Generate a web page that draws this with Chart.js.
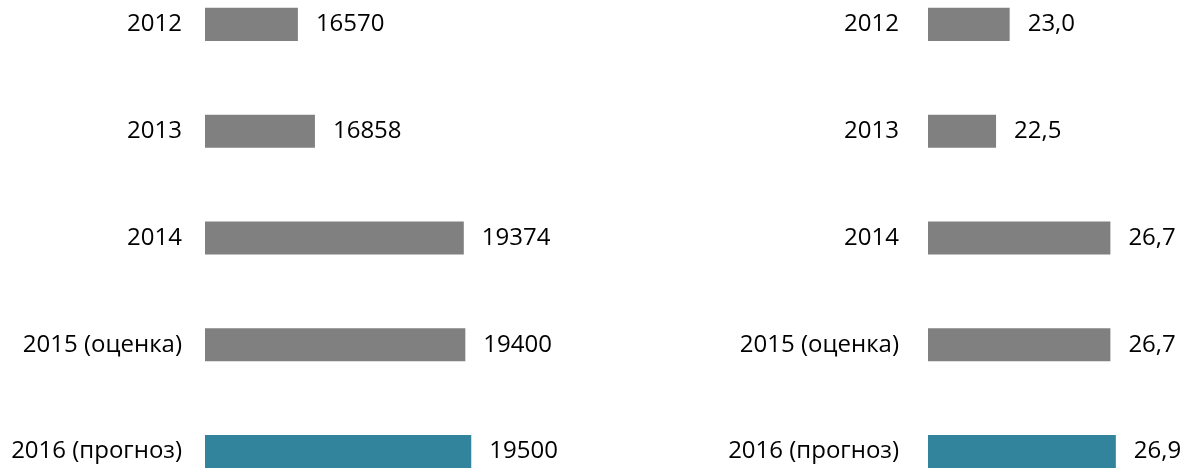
<!DOCTYPE html>
<html>
<head>
<meta charset="utf-8">
<script src="https://cdn.jsdelivr.net/npm/chart.js@4"></script>
<style>
    html, body { margin: 0; padding: 0; background: #fff; overflow: hidden; }
    body { width: 1184px; height: 468px; position: relative; }
    .box { position: absolute; top: -29px; height: 534px; }
    #left-box { left: 0; width: 600px; }
    #right-box { left: 723px; width: 461px; }
</style>
</head>
<body>
<div id="left-box" class="box"><canvas id="chart-left"></canvas></div>
<div id="right-box" class="box"><canvas id="chart-right"></canvas></div>
<script>
const years = ['2012', '2013', '2014', '2015 (оценка)', '2016 (прогноз)'];
const leftValues = [16570, 16858, 19374, 19400, 19500];
const rightValues = [23.0, 22.5, 26.7, 26.7, 26.9];

const GREY = '#808080';
const TEAL = '#31849B';
const FONT_FAMILY = '"Open Sans", sans-serif';
const FONT_SIZE = 24;

const barColors = years.map((y, i) => (i === years.length - 1 ? TEAL : GREY));

// draws the value to the right of each bar
const valueLabels = {
    id: 'valueLabels',
    afterDatasetsDraw(chart, args, opts) {
        const ctx = chart.ctx;
        const meta = chart.getDatasetMeta(0);
        const data = chart.data.datasets[0].data;
        ctx.save();
        ctx.font = `${FONT_SIZE}px ${FONT_FAMILY}`;
        ctx.fillStyle = '#000';
        ctx.textAlign = 'left';
        ctx.textBaseline = 'middle';
        meta.data.forEach((bar, i) => {
            ctx.fillText(opts.format(data[i]), bar.x + 18, bar.y);
        });
        ctx.restore();
    },
};

function makeConfig(values, min, max, format, padRight, tickPad) {
    return {
        type: 'bar',
        data: {
            labels: years,
            datasets: [{
                data: values,
                backgroundColor: barColors,
                categoryPercentage: 1,
                barPercentage: 0.31,
            }],
        },
        options: {
            indexAxis: 'y',
            responsive: true,
            maintainAspectRatio: false,
            animation: false,
            layout: { padding: { left: 0, right: padRight, top: 0, bottom: 0 } },
            scales: {
                x: { display: false, min: min, max: max },
                y: {
                    grid: { display: false },
                    border: { display: false },
                    ticks: {
                        color: '#000',
                        padding: tickPad,
                        font: { family: FONT_FAMILY, size: FONT_SIZE },
                    },
                    afterFit: (scale) => {
                        scale.width = 205;
                        scale.paddingTop = 0;
                        scale.paddingBottom = 0;
                    },
                },
            },
            plugins: {
                legend: { display: false },
                tooltip: { enabled: false },
                valueLabels: { format: format },
            },
        },
        plugins: [valueLabels],
    };
}

new Chart(document.getElementById('chart-left'),
    makeConfig(leftValues, 15000, 21000, (v) => String(v), 40, 15));
new Chart(document.getElementById('chart-right'),
    makeConfig(rightValues, 20, 29, (v) => v.toFixed(1).replace('.', ','), 11, 21));
</script>
</body>
</html>
